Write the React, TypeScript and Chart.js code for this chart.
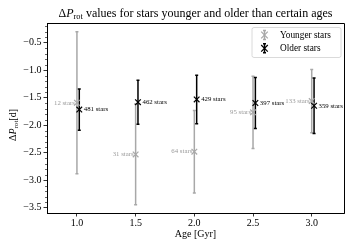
import { useEffect, useRef } from "react";
import { Chart, registerables } from "chart.js";

Chart.register(...registerables);

// ---- data ----
const ages = [1.0, 1.5, 2.0, 2.5, 3.0];
const olderOffset = 0.02;
const youngerMean = [-1.59, -2.53, -2.48, -1.765, -1.56];
const youngerErr = [1.29, 0.915, 0.75, 0.655, 0.575];
const youngerCount = [12, 31, 64, 95, 133];
const olderMean = [-1.715, -1.58, -1.53, -1.595, -1.645];
const olderErr = [0.373, 0.4, 0.44, 0.464, 0.505];
const olderCount = [481, 462, 429, 397, 359];
const xTicks = [1.0, 1.5, 2.0, 2.5, 3.0];
const yTicks = [-3.5, -3.0, -2.5, -2.0, -1.5, -1.0, -0.5];
const seriesNames = ["Younger stars", "Older stars"];

const SERIF = "'Liberation Serif', 'DejaVu Serif', serif";
const GRAY = "#a8a8a8";
const GRAY_TEXT = "#9a9a9a";
const BLACK = "#000000";

const olderX = ages.map((a) => a + olderOffset);

type Seg = { t: string; italic?: boolean; sub?: boolean };

function segFont(seg: Seg, size: number) {
  const s = seg.sub ? size * 0.7 : size;
  return `${seg.italic ? "italic " : ""}${s}px ${SERIF}`;
}

function richWidth(ctx: CanvasRenderingContext2D, segs: Seg[], size: number) {
  let w = 0;
  for (const s of segs) {
    ctx.font = segFont(s, size);
    w += ctx.measureText(s.t).width;
  }
  return w;
}

function drawRich(ctx: CanvasRenderingContext2D, segs: Seg[], size: number, cx: number, cy: number, color: string) {
  const w = richWidth(ctx, segs, size);
  let x = cx - w / 2;
  ctx.fillStyle = color;
  ctx.textAlign = "left";
  ctx.textBaseline = "middle";
  for (const s of segs) {
    ctx.font = segFont(s, size);
    ctx.fillText(s.t, x, s.sub ? cy + size * 0.28 : cy);
    x += ctx.measureText(s.t).width;
  }
}

function drawCross(ctx: CanvasRenderingContext2D, x: number, y: number, r: number, color: string, lw: number) {
  ctx.strokeStyle = color;
  ctx.lineWidth = lw;
  ctx.beginPath();
  ctx.moveTo(x - r, y - r);
  ctx.lineTo(x + r, y + r);
  ctx.moveTo(x - r, y + r);
  ctx.lineTo(x + r, y - r);
  ctx.stroke();
}

function drawErrSymbol(ctx: CanvasRenderingContext2D, x: number, y0: number, y1: number, color: string, lw: number) {
  ctx.strokeStyle = color;
  ctx.lineWidth = lw;
  ctx.beginPath();
  ctx.moveTo(x, y0);
  ctx.lineTo(x, y1);
  ctx.moveTo(x - 1.5, y0);
  ctx.lineTo(x + 1.5, y0);
  ctx.moveTo(x - 1.5, y1);
  ctx.lineTo(x + 1.5, y1);
  ctx.stroke();
}

const errorBarPlugin = {
  id: "errorBars",
  beforeDatasetsDraw(chart: any) {
    const { ctx, scales } = chart;
    const xs = scales.x;
    const ys = scales.y;
    const groups = [
      { xv: ages, m: youngerMean, e: youngerErr, color: GRAY, lw: 1.5 },
      { xv: olderX, m: olderMean, e: olderErr, color: BLACK, lw: 1.5 },
    ];
    ctx.save();
    for (const g of groups) {
      g.xv.forEach((xv, i) => {
        const px = xs.getPixelForValue(xv);
        const top = ys.getPixelForValue(g.m[i] + g.e[i]);
        const bot = ys.getPixelForValue(g.m[i] - g.e[i]);
        drawErrSymbol(ctx, px, top, bot, g.color, g.lw);
      });
    }
    ctx.restore();
  },
  afterDraw(chart: any) {
    const { ctx, scales, chartArea } = chart;
    const xs = scales.x;
    const ys = scales.y;
    ctx.save();
    // top/right spines
    ctx.strokeStyle = "#000";
    ctx.lineWidth = 1;
    ctx.beginPath();
    ctx.moveTo(chartArea.left, chartArea.top + 0.5);
    ctx.lineTo(chartArea.right + 0.5, chartArea.top + 0.5);
    ctx.lineTo(chartArea.right + 0.5, chartArea.bottom);
    ctx.stroke();

    // minor y ticks
    ctx.lineWidth = 0.6;
    ctx.beginPath();
    for (let k = Math.ceil(ys.min * 10); k <= Math.floor(ys.max * 10); k++) {
      if (k % 5 === 0) continue;
      const py = Math.round(ys.getPixelForValue(k / 10)) + 0.5;
      ctx.moveTo(chartArea.left - 2, py);
      ctx.lineTo(chartArea.left, py);
    }
    ctx.stroke();

    // count labels
    ctx.textBaseline = "middle";
    ctx.font = `6.8px ${SERIF}`;
    ages.forEach((a, i) => {
      const px = xs.getPixelForValue(a);
      const py = ys.getPixelForValue(youngerMean[i]);
      ctx.fillStyle = GRAY_TEXT;
      ctx.textAlign = "right";
      ctx.fillText(`${youngerCount[i]} stars`, px - 2, py);
    });
    olderX.forEach((a, i) => {
      const px = xs.getPixelForValue(a);
      const py = ys.getPixelForValue(olderMean[i]);
      ctx.fillStyle = BLACK;
      ctx.textAlign = "left";
      ctx.fillText(`${olderCount[i]} stars`, px + 4.5, py);
    });

    // title
    const cx = (chartArea.left + chartArea.right) / 2;
    drawRich(
      ctx,
      [
        { t: "Δ" },
        { t: "P", italic: true },
        { t: "rot", sub: true },
        { t: " values for stars younger and older than certain ages" },
      ],
      12,
      cx,
      13.5,
      "#000"
    );

    // x label
    drawRich(ctx, [{ t: "Age [Gyr]" }], 10, cx, 234, "#000");

    // y label
    ctx.save();
    ctx.translate(13, 125);
    ctx.rotate(-Math.PI / 2);
    drawRich(ctx, [{ t: "Δ" }, { t: "P", italic: true }, { t: "rot", sub: true }, { t: "[d]" }], 10, 0, 0, "#000");
    ctx.restore();

    // legend
    const lx = 252, ly = 27.5, lw = 89, lh = 30;
    ctx.beginPath();
    const r = 2;
    ctx.moveTo(lx + r, ly);
    ctx.arcTo(lx + lw, ly, lx + lw, ly + lh, r);
    ctx.arcTo(lx + lw, ly + lh, lx, ly + lh, r);
    ctx.arcTo(lx, ly + lh, lx, ly, r);
    ctx.arcTo(lx, ly, lx + lw, ly, r);
    ctx.closePath();
    ctx.fillStyle = "rgba(255,255,255,0.8)";
    ctx.fill();
    ctx.strokeStyle = "#d0d0d0";
    ctx.lineWidth = 0.8;
    ctx.stroke();
    const rows = [
      { y: 35, color: GRAY, name: seriesNames[0] },
      { y: 48.3, color: BLACK, name: seriesNames[1] },
    ];
    for (const row of rows) {
      drawErrSymbol(ctx, 264.5, row.y - 4.5, row.y + 4.5, row.color, 1.5);
      drawCross(ctx, 264.5, row.y, 3.3, row.color, 1.2);
      ctx.fillStyle = "#000";
      ctx.font = `9.3px ${SERIF}`;
      ctx.textAlign = "left";
      ctx.textBaseline = "middle";
      ctx.fillText(row.name, 280, row.y + 0.5);
    }
    ctx.restore();
  },
};

export default function App() {
  const ref = useRef<HTMLCanvasElement | null>(null);

  useEffect(() => {
    document.body.style.margin = "0";
    const canvas = ref.current;
    if (!canvas) return;
    const chart = new Chart(canvas, {
      type: "scatter",
      data: {
        datasets: [
          {
            label: seriesNames[0],
            data: ages.map((a, i) => ({ x: a, y: youngerMean[i] })),
            pointStyle: "crossRot",
            radius: 4,
            borderColor: GRAY,
            backgroundColor: GRAY,
            borderWidth: 1.2,
          },
          {
            label: seriesNames[1],
            data: olderX.map((a, i) => ({ x: a, y: olderMean[i] })),
            pointStyle: "crossRot",
            radius: 4,
            borderColor: BLACK,
            backgroundColor: BLACK,
            borderWidth: 1.2,
          },
        ],
      },
      options: {
        responsive: false,
        animation: false,
        devicePixelRatio: 1,
        layout: { padding: { left: 0, top: 23, right: 11, bottom: 0 } },
        plugins: {
          legend: { display: false },
          tooltip: { enabled: false },
          title: { display: false },
        },
        scales: {
          x: {
            type: "linear",
            min: 0.745,
            max: 3.275,
            afterBuildTicks: (s: any) => {
              s.ticks = xTicks.map((v) => ({ value: v }));
            },
            afterFit: (s: any) => {
              s.height = 36;
            },
            ticks: {
              callback: (v: any) => Number(v).toFixed(1),
              font: { family: SERIF, size: 10 },
              color: "#000",
              padding: 1,
              maxRotation: 0,
              autoSkip: false,
            },
            grid: {
              display: true,
              drawOnChartArea: false,
              drawTicks: true,
              tickLength: 3.5,
              color: "#000",
              lineWidth: 0.8,
            },
            border: { display: true, color: "#000", width: 1 },
          },
          y: {
            type: "linear",
            min: -3.595,
            max: -0.14,
            afterBuildTicks: (s: any) => {
              s.ticks = yTicks.map((v) => ({ value: v }));
            },
            afterFit: (s: any) => {
              s.width = 47;
            },
            ticks: {
              callback: (v: any) => Number(v).toFixed(1).replace("-", "\u2212"),
              font: { family: SERIF, size: 10 },
              color: "#000",
              padding: 2,
              autoSkip: false,
            },
            grid: {
              display: true,
              drawOnChartArea: false,
              drawTicks: true,
              tickLength: 3.5,
              color: "#000",
              lineWidth: 0.8,
            },
            border: { display: true, color: "#000", width: 1 },
          },
        },
      },
      plugins: [errorBarPlugin],
    });
    return () => chart.destroy();
  }, []);

  return (
    <div style={{ position: "fixed", left: 0, top: 0, width: 355, height: 249, background: "#fff" }}>
      <canvas ref={ref} width={355} height={249} style={{ display: "block", width: 355, height: 249 }} />
    </div>
  );
}
